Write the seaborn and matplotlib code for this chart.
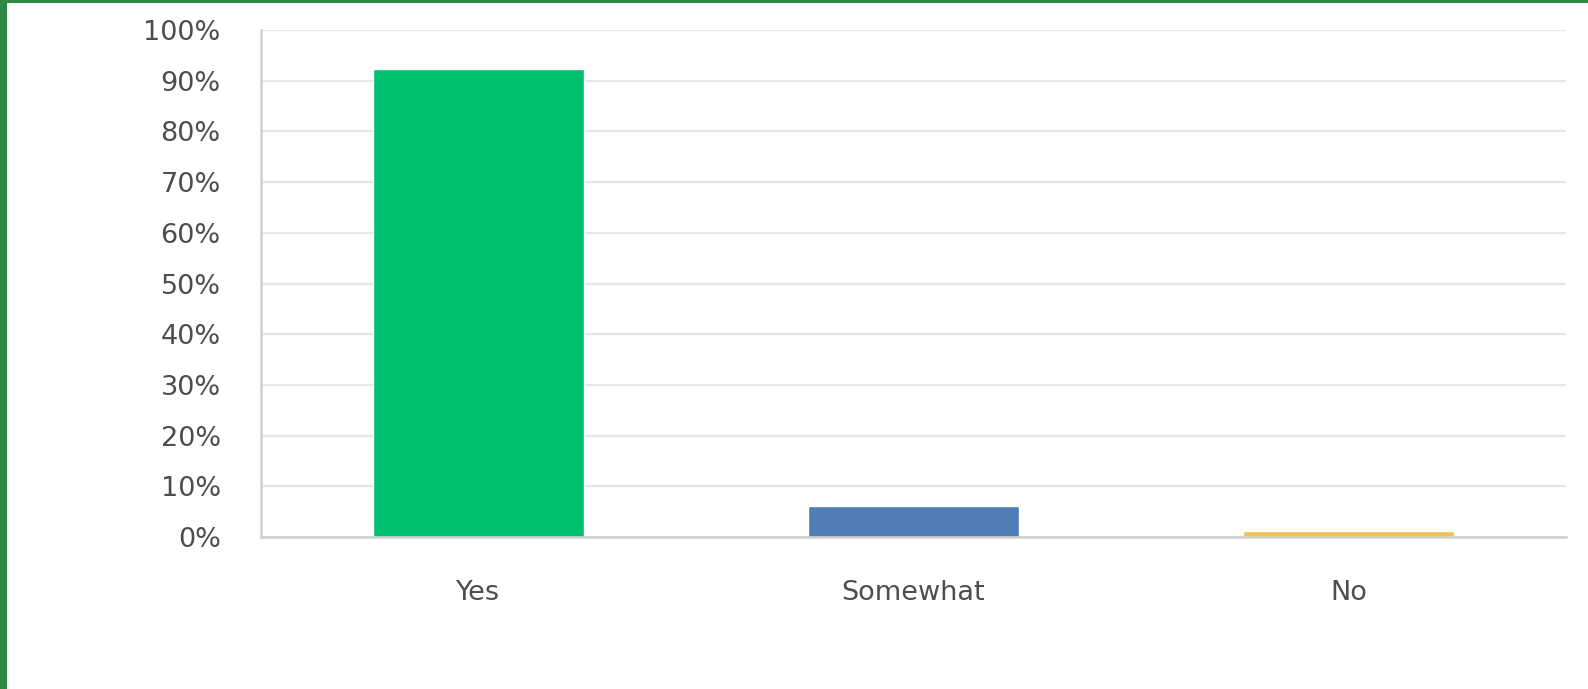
import matplotlib
matplotlib.use("Agg")
import matplotlib.pyplot as plt
import seaborn as sns
import pandas as pd
from matplotlib.patches import Rectangle
from matplotlib.ticker import FuncFormatter

# Survey responses (share of respondents)
answers = ["Yes", "Somewhat", "No"]
shares = [92.3, 6.1, 1.2]
bar_colors = ["#00bf6f", "#507cb6", "#f2c14e"]
y_ticks = [0, 10, 20, 30, 40, 50, 60, 70, 80, 90, 100]

sns.set_theme(style="white")
plt.rcParams["font.family"] = ["DejaVu Sans"]

df = pd.DataFrame({"answer": answers, "share": shares})

fig = plt.figure(figsize=(15.88, 6.89), dpi=100)
fig.patch.set_facecolor("white")

# green frame along the left and top edges
fig.patches.append(Rectangle((0, 0), 7 / 1588, 1, transform=fig.transFigure,
                             facecolor="#2f8744", edgecolor="none", zorder=0))
fig.patches.append(Rectangle((0, 1 - 3 / 689), 1, 3 / 689, transform=fig.transFigure,
                             facecolor="#2f8744", edgecolor="none", zorder=0))

ax = fig.add_axes([261 / 1588, 152 / 689, 1305 / 1588, 507 / 689])

sns.barplot(data=df, x="answer", y="share", hue="answer", palette=bar_colors,
            legend=False, width=0.485, saturation=1, ax=ax, zorder=3)

ax.set_xlim(-0.5, 2.5)
ax.set_ylim(0, 100)
ax.set_yticks(y_ticks)
ax.yaxis.set_major_formatter(FuncFormatter(lambda v, _: f"{v:.0f}%"))

ax.grid(axis="y", color="#e6e6e6", linewidth=1.6, zorder=0)
ax.grid(axis="x", visible=False)
ax.set_axisbelow(True)

for side in ("top", "right"):
    ax.spines[side].set_visible(False)
for side in ("left", "bottom"):
    ax.spines[side].set_color("#cfcfcf")
    ax.spines[side].set_linewidth(1.8)
    ax.spines[side].set_zorder(4)

ax.tick_params(axis="y", length=0, pad=29, labelsize=19.5, labelcolor="#4d4d4d")
ax.tick_params(axis="x", length=0, pad=31, labelsize=19.5, labelcolor="#4d4d4d")
ax.set_xlabel("")
ax.set_ylabel("")

fig.savefig("out.png", dpi=100, facecolor="white")
